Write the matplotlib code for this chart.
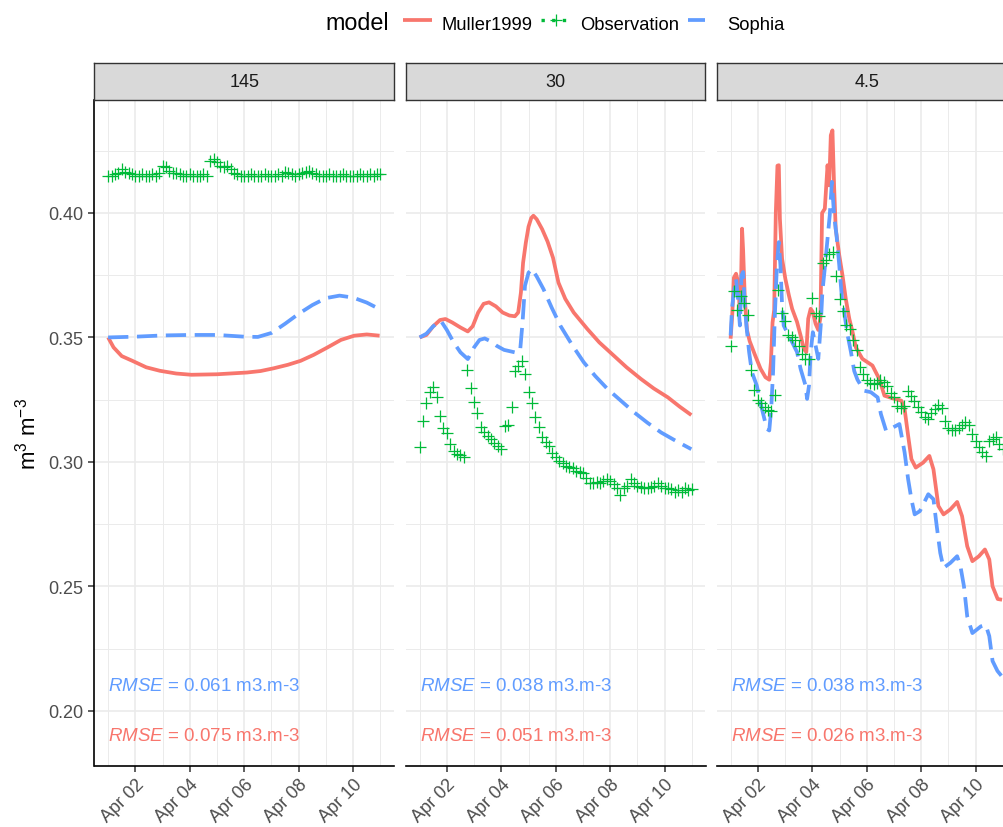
import numpy as np
import matplotlib
matplotlib.use("Agg")
import matplotlib.pyplot as plt
import matplotlib.dates as mdates
from matplotlib.lines import Line2D
from matplotlib.ticker import FixedLocator

plt.rcParams['font.family'] = ['Liberation Sans', 'DejaVu Sans']
plt.rcParams['mathtext.fontset'] = 'custom'
plt.rcParams['mathtext.rm'] = 'Liberation Sans'
plt.rcParams['mathtext.it'] = 'Liberation Sans:italic'

# ---------------- data ----------------
depths = ['145', '30', '4.5']
start = np.datetime64('2019-04-01T00:00')
obs_step_days = 0.125  # observations every 3 hours

obs_145 = [
    0.415, 0.415, 0.4155, 0.416, 0.4177, 0.4165, 0.416, 0.4155,
    0.415, 0.415, 0.4155, 0.415, 0.415, 0.4155, 0.415, 0.416,
    0.419, 0.4185, 0.417, 0.416, 0.416, 0.4155, 0.415, 0.415,
    0.4155, 0.415, 0.415, 0.415, 0.4155, 0.415, 0.421, 0.4215,
    0.4205, 0.419, 0.4185, 0.419, 0.4175, 0.416, 0.4155, 0.415,
    0.415, 0.415, 0.4155, 0.415, 0.415, 0.415, 0.4155, 0.415,
    0.415, 0.415, 0.4155, 0.415, 0.4165, 0.416, 0.4155, 0.415,
    0.4155, 0.416, 0.4165, 0.417, 0.416, 0.4155, 0.415, 0.415,
    0.415, 0.4155, 0.415, 0.415, 0.415, 0.4155, 0.415, 0.415,
    0.415, 0.415, 0.4155, 0.415, 0.415, 0.4155, 0.415, 0.4155,
    0.4155,
]
obs_30 = [
    0.306, 0.3165, 0.3235, 0.328, 0.330, 0.326, 0.3185, 0.3135,
    0.3115, 0.307, 0.3045, 0.303, 0.3027, 0.302, 0.337, 0.3295,
    0.324, 0.3195, 0.314, 0.312, 0.3105, 0.309, 0.3075, 0.3065,
    0.305, 0.3145, 0.315, 0.322, 0.3365, 0.3385, 0.3405, 0.3355,
    0.328, 0.3235, 0.318, 0.314, 0.310, 0.308, 0.3065, 0.3035,
    0.302, 0.3005, 0.2995, 0.2985, 0.298, 0.2975, 0.2965, 0.296,
    0.2955, 0.2935, 0.2915, 0.2915, 0.292, 0.2915, 0.2925, 0.293,
    0.2925, 0.291, 0.2895, 0.2865, 0.2895, 0.2905, 0.293, 0.2915,
    0.2905, 0.290, 0.2895, 0.2895, 0.290, 0.2905, 0.2915, 0.2905,
    0.2895, 0.2895, 0.289, 0.288, 0.2885, 0.288, 0.2895, 0.2885,
    0.289,
]
obs_4_5 = [
    0.3465, 0.3685, 0.3610, 0.3665, 0.3640, 0.3590, 0.3370, 0.3290,
    0.3250, 0.3235, 0.3220, 0.3210, 0.3205, 0.3270, 0.3690, 0.3600,
    0.3565, 0.3510, 0.3500, 0.3490, 0.3465, 0.3435, 0.3415, 0.3413,
    0.3660, 0.3600, 0.3585, 0.3800, 0.3812, 0.3835, 0.3842, 0.3745,
    0.3655, 0.3605, 0.3550, 0.3535, 0.3490, 0.3450, 0.3380, 0.3355,
    0.3330, 0.3315, 0.3312, 0.3318, 0.3330, 0.3320, 0.3305, 0.3275,
    0.3262, 0.3225, 0.3218, 0.3225, 0.3285, 0.3265, 0.3246, 0.3222,
    0.3199, 0.3180, 0.3172, 0.3195, 0.3212, 0.3228, 0.3215, 0.3165,
    0.3138, 0.3128, 0.3128, 0.3138, 0.3150, 0.3162, 0.3150, 0.3112,
    0.3085, 0.3058, 0.3038, 0.3024, 0.3085, 0.3091, 0.3098, 0.3070,
    0.3051,
]

# model series: time (days after Apr 01 00:00) and value
muller_145_t = [0.00, 0.20, 0.50, 0.89, 1.40, 1.90, 2.50, 3.06, 4.00, 5.10,
                5.60, 6.08, 6.60, 7.07, 7.55, 8.06, 8.55, 9.04, 9.50, 9.97]
muller_145_v = [0.3500, 0.3460, 0.3425, 0.3406, 0.3380, 0.3366, 0.3355, 0.3350, 0.3352, 0.3359,
                0.3365, 0.3376, 0.3390, 0.3406, 0.3430, 0.3460, 0.3490, 0.3507, 0.3512, 0.3507]
sophia_145_t = [0.0, 1.0, 2.0, 3.0, 4.0, 5.0, 5.5, 6.0, 6.5, 7.0, 7.5, 8.0, 8.5, 9.0, 9.5, 10.0]
sophia_145_v = [0.3500, 0.3503, 0.3508, 0.3510, 0.3510, 0.3503, 0.3502, 0.3518, 0.3555, 0.3595,
                0.3630, 0.3658, 0.3668, 0.3660, 0.3640, 0.3612]

muller_30_t = [0.00, 0.25, 0.50, 0.75, 0.95, 1.20, 1.50, 1.77, 1.95, 2.15, 2.35, 2.55, 2.80, 3.05,
               3.30, 3.50, 3.62, 3.72, 3.80, 3.90, 4.00, 4.10, 4.18, 4.30, 4.50, 4.70, 4.90, 5.10,
               5.35, 5.66, 6.16, 6.60, 7.14, 7.60, 8.13, 8.60, 9.12, 9.55, 9.98]
muller_30_v = [0.3500, 0.3510, 0.3545, 0.3570, 0.3574, 0.3560, 0.3540, 0.3524, 0.3545, 0.3600,
               0.3635, 0.3641, 0.3625, 0.3600, 0.3588, 0.3585, 0.3600, 0.3680, 0.3800, 0.3880,
               0.3945, 0.3980, 0.3989, 0.3975, 0.3935, 0.3885, 0.3820, 0.3720, 0.3655, 0.3600,
               0.3534, 0.3480, 0.3426, 0.3380, 0.3333, 0.3295, 0.3259, 0.3222, 0.3188]
sophia_30_t = [0.00, 0.25, 0.50, 0.78, 1.00, 1.25, 1.50, 1.77, 2.00, 2.20, 2.39, 2.60, 2.82, 3.10,
               3.50, 3.69, 3.78, 3.87, 4.00, 4.12, 4.30, 4.55, 4.85, 5.17, 5.60, 6.03, 6.45, 6.90,
               7.40, 7.88, 8.37, 8.87, 9.40, 9.98]
sophia_30_v = [0.3500, 0.3515, 0.3545, 0.3567, 0.3530, 0.3480, 0.3440, 0.3413, 0.3460, 0.3490,
               0.3496, 0.3485, 0.3467, 0.3450, 0.3440, 0.3445, 0.3560, 0.3708, 0.3760, 0.3775,
               0.3745, 0.3694, 0.3620, 0.3547, 0.3470, 0.3400, 0.3345, 0.3293, 0.3245, 0.3199,
               0.3157, 0.3118, 0.3085, 0.3051]

muller_4_5_t = [0.00, 0.06, 0.12, 0.20, 0.28, 0.34, 0.38, 0.42, 0.46, 0.52, 0.60, 0.70, 0.90, 1.10,
                1.28, 1.42, 1.48, 1.54, 1.60, 1.66, 1.72, 1.77, 1.81, 1.89, 2.01, 2.14, 2.26, 2.44,
                2.57, 2.69, 2.78, 2.85, 2.94, 3.02, 3.12, 3.22, 3.30, 3.36, 3.46, 3.56, 3.62, 3.68,
                3.74, 3.80, 3.86, 3.99, 4.11, 4.23, 4.36, 4.48, 4.60, 4.84, 5.21, 5.46, 5.65, 5.96,
                6.27, 6.39, 6.52, 6.64, 6.80, 7.07, 7.30, 7.45, 7.63, 7.82, 8.07, 8.32, 8.50, 8.69,
                8.88, 9.12, 9.34, 9.50, 9.62, 9.81, 9.97]
muller_4_5_v = [0.3495, 0.3590, 0.3740, 0.3756, 0.3720, 0.3600, 0.3700, 0.3937, 0.3850, 0.3660,
                0.3530, 0.3485, 0.3428, 0.3374, 0.3340, 0.3330, 0.3400, 0.3560, 0.3610, 0.4000,
                0.4190, 0.4192, 0.3977, 0.3816, 0.3736, 0.3669, 0.3615, 0.3562, 0.3508, 0.3454,
                0.3441, 0.3575, 0.3615, 0.3602, 0.3555, 0.3530, 0.3580, 0.4000, 0.4017, 0.4192,
                0.4111, 0.4312, 0.4332, 0.4111, 0.3937, 0.3830, 0.3749, 0.3655, 0.3575, 0.3521,
                0.3460, 0.3414, 0.3387, 0.3333, 0.3266, 0.3255, 0.3246, 0.3212, 0.3105, 0.3011,
                0.2977, 0.2997, 0.3024, 0.2970, 0.2823, 0.2789, 0.2809, 0.2839, 0.2782, 0.2661,
                0.2601, 0.2621, 0.2648, 0.2608, 0.2500, 0.2449, 0.2446]
sophia_4_5_t = [0.00, 0.05, 0.12, 0.20, 0.27, 0.34, 0.40, 0.46, 0.52, 0.58, 0.68, 0.78, 0.96, 1.15,
                1.33, 1.42, 1.49, 1.56, 1.62, 1.70, 1.77, 1.83, 1.89, 1.95, 2.07, 2.26, 2.44, 2.57,
                2.75, 2.81, 2.88, 2.94, 3.02, 3.12, 3.22, 3.31, 3.37, 3.47, 3.56, 3.64, 3.72, 3.80,
                3.89, 3.99, 4.09, 4.17, 4.30, 4.42, 4.54, 4.66, 4.90, 5.15, 5.40, 5.52, 5.71, 5.96,
                6.20, 6.39, 6.52, 6.64, 6.76, 6.95, 7.26, 7.45, 7.57, 7.70, 7.82, 8.07, 8.32, 8.44,
                8.57, 8.69, 8.88, 9.19, 9.37, 9.50, 9.62, 9.80, 9.97]
sophia_4_5_v = [0.3508, 0.3615, 0.3682, 0.3736, 0.3656, 0.3548, 0.3749, 0.3763, 0.3629, 0.3548,
                0.3441, 0.3361, 0.3307, 0.3213, 0.3133, 0.3126, 0.3213, 0.3361, 0.3575, 0.3790,
                0.3883, 0.3790, 0.3629, 0.3548, 0.3521, 0.3481, 0.3441, 0.3374, 0.3307, 0.3253,
                0.3307, 0.3441, 0.3521, 0.3468, 0.3414, 0.3548, 0.3682, 0.3790, 0.3897, 0.3990,
                0.4125, 0.3990, 0.3910, 0.3790, 0.3655, 0.3602, 0.3508, 0.3441, 0.3365, 0.3330,
                0.3286, 0.3280, 0.3259, 0.3192, 0.3125, 0.3138, 0.3152, 0.3038, 0.2930, 0.2850,
                0.2789, 0.2802, 0.2870, 0.2850, 0.2742, 0.2634, 0.2574, 0.2594, 0.2621, 0.2581,
                0.2500, 0.2379, 0.2312, 0.2339, 0.2345, 0.2300, 0.2200, 0.2160, 0.2137]

rmse_sophia = ['0.061', '0.038', '0.038']
rmse_muller = ['0.075', '0.051', '0.026']

obs_all = [obs_145, obs_30, obs_4_5]
muller_all = [(muller_145_t, muller_145_v), (muller_30_t, muller_30_v), (muller_4_5_t, muller_4_5_v)]
sophia_all = [(sophia_145_t, sophia_145_v), (sophia_30_t, sophia_30_v), (sophia_4_5_t, sophia_4_5_v)]

# ---------------- style ----------------
C_MULLER = '#F8766D'
C_OBS = '#00BA38'
C_SOPHIA = '#619CFF'
LW = 2.7
DASH = (5.4, 2.3)


def to_time(days):
    d = np.asarray(days, dtype=float)
    return start + np.round(d * 1440).astype('timedelta64[m]')


W, H = 1004, 828
fig = plt.figure(figsize=(W / 100, H / 100), dpi=100)

panel_left = [94.5, 406, 717]
panel_w = 299.5
ax_top, ax_bot = 101, 767
strip_top = 64

xmin = start - np.timedelta64(12, 'h')
xmax = start + np.timedelta64(10 * 24 + 12, 'h')

for i, dep in enumerate(depths):
    ax = fig.add_axes([panel_left[i] / W, 1 - ax_bot / H, panel_w / W, (ax_bot - ax_top) / H])
    ax.set_axisbelow(True)
    tm, vm = muller_all[i]
    ts, vs = sophia_all[i]
    ax.plot(to_time(tm), vm, color=C_MULLER, lw=LW, solid_capstyle='butt', zorder=3)
    ax.plot(to_time(ts), vs, color=C_SOPHIA, lw=LW, dashes=DASH, dash_capstyle='butt', zorder=3)
    ot = np.arange(len(obs_all[i])) * obs_step_days
    ax.plot(to_time(ot), obs_all[i], linestyle='none', marker='+', ms=8, mew=0.9,
            color=C_OBS, zorder=4)

    ax.text(to_time([0.0])[0], 0.21, r'$\mathit{RMSE}$ = ' + rmse_sophia[i] + ' m3.m-3',
            color=C_SOPHIA, fontsize=13.5, ha='left', va='center')
    ax.text(to_time([0.0])[0], 0.19, r'$\mathit{RMSE}$ = ' + rmse_muller[i] + ' m3.m-3',
            color=C_MULLER, fontsize=13.5, ha='left', va='center')

    ax.set_xlim(xmin, xmax)
    ax.set_ylim(0.1778, 0.4454)

    ax.xaxis.set_major_locator(mdates.DayLocator(bymonthday=[2, 4, 6, 8, 10]))
    ax.xaxis.set_minor_locator(mdates.DayLocator(bymonthday=[1, 3, 5, 7, 9, 11]))
    ax.xaxis.set_major_formatter(mdates.DateFormatter('%b %d'))
    ax.yaxis.set_major_locator(FixedLocator([0.20, 0.25, 0.30, 0.35, 0.40]))
    ax.yaxis.set_minor_locator(FixedLocator([0.225, 0.275, 0.325, 0.375, 0.425]))
    ax.yaxis.set_major_formatter(matplotlib.ticker.FormatStrFormatter('%.2f'))

    ax.grid(which='major', color='#EBEBEB', lw=1.2)
    ax.grid(which='minor', color='#EBEBEB', lw=0.7)

    for s in ['top', 'right', 'left']:
        ax.spines[s].set_visible(False)
    ax.spines['bottom'].set_color('black')
    ax.spines['bottom'].set_linewidth(1.2)
    if i == 0:
        ax.spines['left'].set_visible(True)
        ax.spines['left'].set_color('black')
        ax.spines['left'].set_linewidth(1.2)
        ax.tick_params(axis='y', which='major', length=4, width=1.1, color='#333333',
                       labelsize=13, labelcolor='#4D4D4D', pad=4)
    else:
        ax.tick_params(axis='y', which='major', left=False, labelleft=False)
    ax.tick_params(axis='y', which='minor', length=0)
    ax.tick_params(axis='x', which='major', length=4, width=1.1, color='#333333',
                   labelsize=13, labelcolor='#4D4D4D', pad=3)
    ax.tick_params(axis='x', which='minor', length=0)
    plt.setp(ax.get_xticklabels(), rotation=45, ha='right', va='top', rotation_mode='anchor')

    # facet strip
    sax = fig.add_axes([panel_left[i] / W, 1 - ax_top / H, panel_w / W, (ax_top - strip_top) / H])
    sax.set_facecolor('#D9D9D9')
    sax.set_xticks([])
    sax.set_yticks([])
    for s in sax.spines.values():
        s.set_color('#333333')
        s.set_linewidth(1.0)
    sax.text(0.5, 0.5, dep, transform=sax.transAxes, ha='center', va='center',
             fontsize=13, color='#1A1A1A')

# y label
fig.text(28 / W, 1 - 434 / H, r'$\mathrm{m}^3\ \mathrm{m}^{-3}$', rotation=90,
         ha='center', va='center', fontsize=16, color='black')

# legend (drawn at top)
base_y = 1 - 29.5 / H
key_y = 1 - 20.5 / H
fig.text(325 / W, base_y, 'model', fontsize=16.8, ha='left', va='baseline')
fig.add_artist(Line2D([403 / W, 432 / W], [key_y, key_y], color=C_MULLER, lw=LW,
                      solid_capstyle='butt', transform=fig.transFigure))
fig.text(441.5 / W, base_y, 'Muller1999', fontsize=13.2, ha='left', va='baseline')
fig.add_artist(Line2D([541 / W, 566 / W], [key_y, key_y], color=C_OBS, lw=2.4,
                      linestyle=(0, (1.0, 2.2)), transform=fig.transFigure))
fig.add_artist(Line2D([556 / W], [key_y], color=C_OBS, marker='+', ms=8, mew=0.9,
                      linestyle='none', transform=fig.transFigure))
fig.text(580.5 / W, base_y, 'Observation', fontsize=13.2, ha='left', va='baseline')
fig.add_artist(Line2D([688 / W, 705 / W], [key_y, key_y], color=C_SOPHIA, lw=LW,
                      solid_capstyle='butt', transform=fig.transFigure))
fig.text(727 / W, base_y, 'Sophia', fontsize=13.2, ha='left', va='baseline')

fig.savefig('out.png', dpi=100)
